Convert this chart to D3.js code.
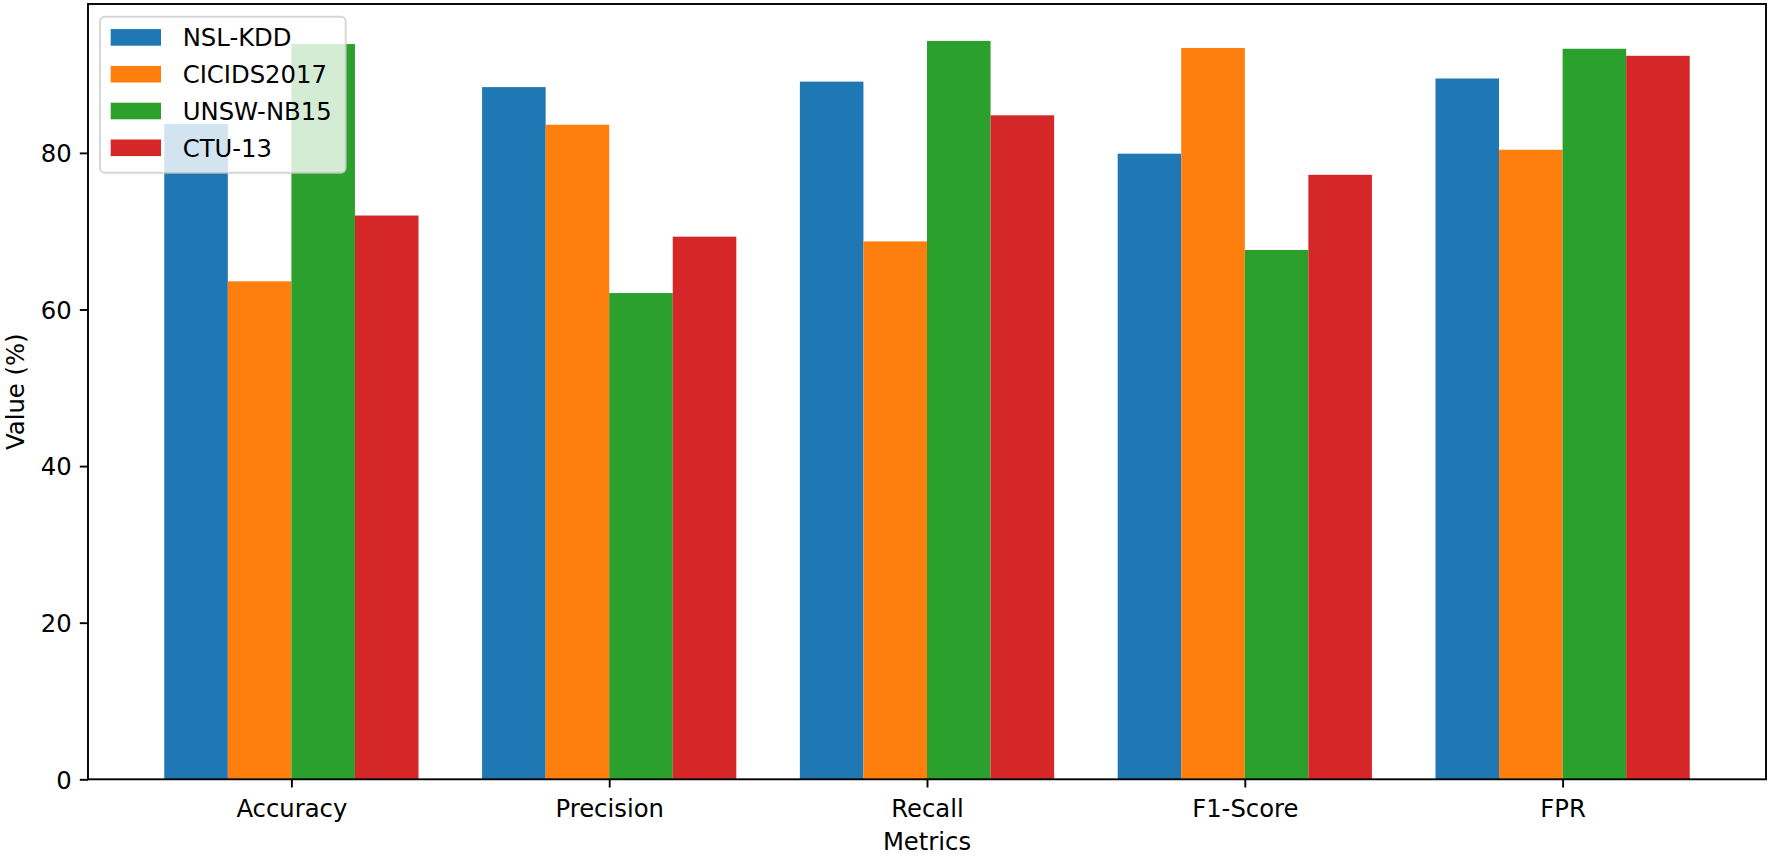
<!DOCTYPE html>
<html>
<head>
<meta charset="utf-8">
<script src="https://cdn.jsdelivr.net/npm/d3@7"></script>
<style>
  html, body { margin: 0; padding: 0; background: #fff; }
  svg { display: block; font-family: "DejaVu Sans", sans-serif; }
</style>
</head>
<body>
<svg id="chart" width="1770" height="856"></svg>
<script>
// ---- data ----
const categories = ["Accuracy", "Precision", "Recall", "F1-Score", "FPR"];
const seriesNames = ["NSL-KDD", "CICIDS2017", "UNSW-NB15", "CTU-13"];
const nslKdd     = [83.7, 88.4, 89.1, 79.9, 89.5];
const cicids2017 = [63.6, 83.6, 68.7, 93.4, 80.4];
const unswNb15   = [93.9, 62.1, 94.3, 67.6, 93.3];
const ctu13      = [72.0, 69.3, 84.8, 77.2, 92.4];
const yTicks = [0, 20, 40, 60, 80];
const colors = ["#1f77b4", "#ff7f0e", "#2ca02c", "#d62728"];
const seriesValues = [nslKdd, cicids2017, unswNb15, ctu13];

// ---- layout ----
const L = 88, R = 1766, T = 4, B = 779.3;
const fs = 24.3;
const barW = 0.2;

const svg = d3.select("#chart");
svg.append("rect").attr("width", 1770).attr("height", 856).attr("fill", "#fff");

const yMax = d3.max(seriesValues.flat()) * 1.05;
const y = d3.scaleLinear().domain([0, yMax]).range([B, T]);
const x = d3.scaleLinear().domain([-0.4 - 0.24, categories.length - 1 + 0.4 + 0.24]).range([L, R]);

// bars
seriesValues.forEach((vals, j) => {
  svg.append("g").selectAll("rect").data(vals).join("rect")
    .attr("x", (d, i) => x(i + (j - 2) * barW))
    .attr("width", (d, i) => x(i + (j - 1) * barW) - x(i + (j - 2) * barW))
    .attr("y", d => y(d))
    .attr("height", d => B - y(d))
    .attr("fill", colors[j]);
});

// axes
const yAxis = d3.axisLeft(y).tickValues(yTicks).tickSize(8.2).tickPadding(8.2).tickFormat(d3.format("d"));
const gy = svg.append("g").attr("transform", `translate(${L},0)`).call(yAxis);
gy.select(".domain").remove();
gy.selectAll(".tick line").attr("stroke", "#000").attr("stroke-width", 1.9);
gy.selectAll(".tick text").attr("font-size", fs).attr("fill", "#000")
  .attr("font-family", "DejaVu Sans, sans-serif").attr("dy", "0.36em");

const xAxis = d3.axisBottom(x).tickValues(d3.range(categories.length))
  .tickFormat(i => categories[i]).tickSize(8.2).tickPadding(8.2);
const gx = svg.append("g").attr("transform", `translate(0,${B})`).call(xAxis);
gx.select(".domain").remove();
gx.selectAll(".tick line").attr("stroke", "#000").attr("stroke-width", 1.9);
gx.selectAll(".tick text").attr("font-size", fs).attr("fill", "#000")
  .attr("font-family", "DejaVu Sans, sans-serif").attr("dy", null).attr("y", 38);

// frame
svg.append("rect").attr("x", L).attr("y", T).attr("width", R - L).attr("height", B - T)
  .attr("fill", "none").attr("stroke", "#000").attr("stroke-width", 1.9);

// axis labels
svg.append("text").attr("x", (L + R) / 2).attr("y", 850).attr("text-anchor", "middle")
  .attr("font-size", fs).attr("fill", "#000").text("Metrics");
svg.append("text").attr("transform", `translate(24,${(T + B) / 2}) rotate(-90)`)
  .attr("text-anchor", "middle").attr("font-size", fs).attr("fill", "#000").text("Value (%)");

// legend
const lg = svg.append("g");
lg.append("rect").attr("x", 100).attr("y", 16.7).attr("width", 245.7).attr("height", 156)
  .attr("rx", 4.7).attr("ry", 4.7)
  .attr("fill", "#fff").attr("fill-opacity", 0.8)
  .attr("stroke", "#cccccc").attr("stroke-opacity", 0.8).attr("stroke-width", 1.9);
const rowY = [37.4, 74.2, 111.0, 147.8];
seriesNames.forEach((name, j) => {
  lg.append("rect").attr("x", 110.7).attr("y", rowY[j] - 8.3).attr("width", 50.3).attr("height", 16.6)
    .attr("fill", colors[j]);
  lg.append("text").attr("x", 182.7).attr("y", rowY[j] + 8.8).attr("font-size", fs)
    .attr("fill", "#000").text(name);
});
</script>
</body>
</html>
